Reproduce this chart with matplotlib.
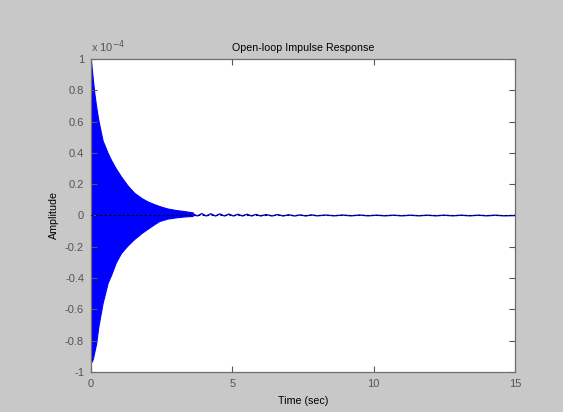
import matplotlib
matplotlib.use("Agg")
import matplotlib.pyplot as plt

# amplitudes are in units of 1e-4
# dense part: the oscillation is too fast to resolve, so only its envelope is kept
env_t = [0.0, 0.06, 0.12, 0.18, 0.26, 0.41, 0.59, 0.71, 0.88, 1.06, 1.3,
         1.53, 1.8, 2.0, 2.2, 2.42, 2.7, 3.0, 3.3, 3.6]
env_upper = [0.99, 0.88, 0.78, 0.70, 0.61, 0.48, 0.40, 0.355, 0.30, 0.25, 0.19,
             0.145, 0.11, 0.09, 0.075, 0.06, 0.045, 0.035, 0.028, 0.02]
env_lower = [-0.94, -0.92, -0.87, -0.82, -0.71, -0.56, -0.43, -0.38, -0.30, -0.24, -0.19,
             -0.15, -0.11, -0.085, -0.06, -0.035, -0.02, -0.012, -0.006, -0.003]

# tail: thin wiggly line
tail_t = [3.6, 3.76, 3.92, 4.08, 4.24, 4.4, 4.56, 4.72, 4.88, 5.04, 5.2, 5.36,
          5.52, 5.68, 5.84, 6.0, 6.2, 6.4, 6.6, 6.8, 7.0, 7.2, 7.4, 7.6, 7.8,
          8.0, 8.3, 8.6, 8.9, 9.2, 9.5, 9.8, 10.1, 10.4, 10.7, 11.0, 11.3,
          11.6, 11.9, 12.2, 12.5, 12.8, 13.1, 13.4, 13.7, 14.0, 14.3, 14.6, 15.0]
tail_y = [0.012, -0.003, 0.012, -0.003, 0.011, -0.003, 0.010, -0.003, 0.009, -0.003,
          0.008, -0.003, 0.008, -0.003, 0.007, -0.003, 0.006, -0.003, 0.006, -0.003,
          0.005, -0.003, 0.004, -0.003, 0.004, -0.002, 0.003, -0.002, 0.003, -0.002,
          0.003, -0.002, 0.002, -0.002, 0.002, -0.002, 0.002, -0.002, 0.002, -0.002,
          0.002, -0.002, 0.002, -0.002, 0.002, -0.002, 0.002, -0.002, 0.0]

x_ticks = [0, 5, 10, 15]
y_ticks = [-1, -0.8, -0.6, -0.4, -0.2, 0, 0.2, 0.4, 0.6, 0.8, 1]
y_labels = ["-1", "-0.8", "-0.6", "-0.4", "-0.2", "0", "0.2", "0.4", "0.6", "0.8", "1"]

plt.rcParams['font.family'] = ['Liberation Sans', 'DejaVu Sans']

fig = plt.figure(figsize=(5.63, 4.12), dpi=100, facecolor='#c8c8c8')
ax = fig.add_axes([0.1616, 0.0971, 0.7531, 0.7597])
ax.set_facecolor('white')

ax.fill_between(env_t, env_lower, env_upper, color='#0000ff', lw=0.8)
ax.plot(tail_t, tail_y, color='#0000ff', lw=1.0)
ax.plot([0, 15], [0, 0], color='black', lw=0.8, ls=(0, (2, 2)), zorder=3)

ax.set_xlim(0, 15)
ax.set_ylim(-1, 1)
ax.set_xticks(x_ticks)
ax.set_xticklabels([str(v) for v in x_ticks])
ax.set_yticks(y_ticks)
ax.set_yticklabels(y_labels)
ax.tick_params(direction='in', length=4, width=0.8, top=True, right=True,
               labelsize=8, colors='#555555', pad=5)
for s in ax.spines.values():
    s.set_color('#6e6e6e')
    s.set_linewidth(0.9)

ax.set_title('Open-loop Impulse Response', fontsize=7.7, pad=6)
ax.set_xlabel('Time (sec)', fontsize=7.7, labelpad=5)
ax.set_ylabel('Amplitude', fontsize=7.7, labelpad=4)
ax.text(0.0, 1.012, 'x 10$^{-4}$', transform=ax.transAxes, fontsize=8,
        color='#555555', va='bottom', ha='left')

fig.savefig('out.png', dpi=100, facecolor=fig.get_facecolor())
